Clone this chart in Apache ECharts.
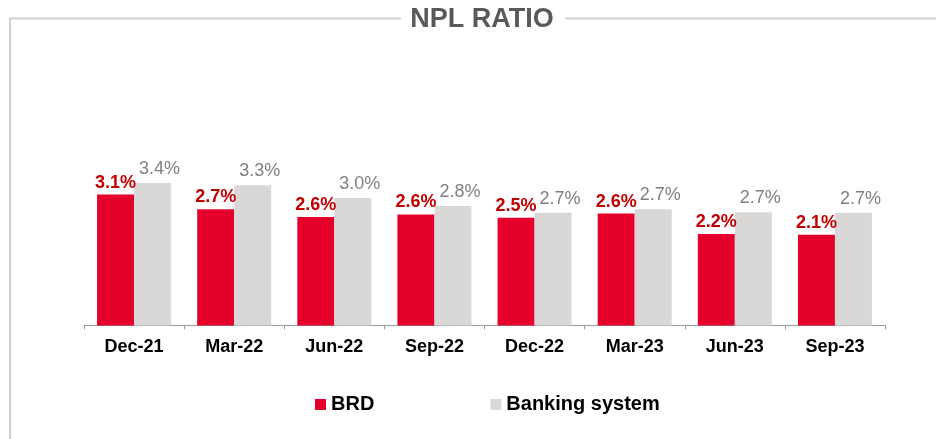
<!DOCTYPE html>
<html>
<head>
<meta charset="utf-8">
<script src="https://cdn.jsdelivr.net/npm/echarts@6/dist/echarts.min.js"></script>
<style>
html,body{margin:0;padding:0;background:#fff;}
#chart{width:936px;height:439px;}
</style>
</head>
<body>
<div id="chart"></div>
<script>
var titleText = 'NPL RATIO';
var categories = ['Dec-21', 'Mar-22', 'Jun-22', 'Sep-22', 'Dec-22', 'Mar-23', 'Jun-23', 'Sep-23'];
var seriesNames = ['BRD', 'Banking system'];
var brdValues = [3.09, 2.74, 2.56, 2.62, 2.54, 2.64, 2.16, 2.14];
var bankingValues = [3.36, 3.31, 3.01, 2.82, 2.66, 2.74, 2.67, 2.66];

var FONT = "'Liberation Sans', Arial, Helvetica, sans-serif";
var chart = echarts.init(document.getElementById('chart'), null, {renderer: 'canvas'});

function pct(p) { return p.value.toFixed(1) + '%'; }

chart.setOption({
  animation: false,
  backgroundColor: '#ffffff',
  textStyle: {fontFamily: FONT},
  graphic: [
    {
      type: 'polyline',
      shape: {points: [[10, 440], [10, 18.5], [401, 18.5]]},
      style: {stroke: '#d0d0d0', lineWidth: 2, fill: null}
    },
    {
      type: 'line',
      shape: {x1: 565, y1: 18.5, x2: 936, y2: 18.5},
      style: {stroke: '#d0d0d0', lineWidth: 2}
    },
    {
      type: 'text',
      x: 482, y: 6,
      style: {
        text: titleText,
        font: 'bold 27px ' + FONT,
        fill: '#595959',
        textAlign: 'center',
        textVerticalAlign: 'top'
      }
    }
  ],
  legend: {
    left: 310,
    top: 389.5,
    itemWidth: 11,
    itemHeight: 11,
    itemGap: 116,
    icon: 'rect',
    data: seriesNames,
    textStyle: {fontFamily: FONT, fontSize: 20, fontWeight: 'bold', color: '#000000'}
  },
  grid: {left: 84, right: 51, top: 156, bottom: 113.6, containLabel: false},
  xAxis: {
    type: 'category',
    data: categories,
    axisLine: {show: true, lineStyle: {color: '#9a9a9a', width: 1}},
    axisTick: {show: true, length: 4, alignWithLabel: false, lineStyle: {color: '#9a9a9a'}},
    axisLabel: {
      margin: 13,
      fontFamily: FONT,
      fontSize: 18,
      fontWeight: 'bold',
      color: '#000000'
    }
  },
  yAxis: {
    type: 'value',
    min: 0,
    max: 4,
    show: false,
    splitLine: {show: false}
  },
  series: [
    {
      name: seriesNames[0],
      type: 'bar',
      data: brdValues,
      barWidth: 37,
      barGap: '0%',
      itemStyle: {color: '#E4002B'},
      label: {
        show: true,
        position: 'top',
        distance: 3,
        formatter: pct,
        fontFamily: FONT,
        fontSize: 18,
        fontWeight: 'bold',
        color: '#C00000'
      }
    },
    {
      name: seriesNames[1],
      type: 'bar',
      data: bankingValues,
      barWidth: 37,
      barGap: '0%',
      itemStyle: {color: '#D9D8D7'},
      label: {
        show: true,
        position: 'top',
        distance: 5,
        offset: [7, 0],
        formatter: pct,
        fontFamily: FONT,
        fontSize: 18,
        fontWeight: 'normal',
        color: '#7f7f7f'
      }
    }
  ]
});
</script>
</body>
</html>
